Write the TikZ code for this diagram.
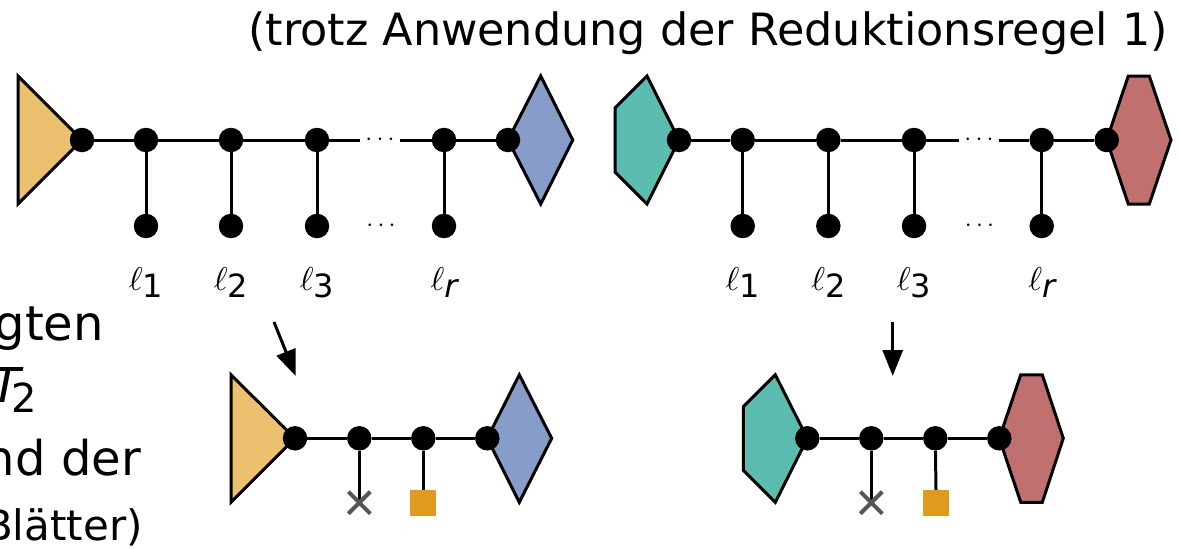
\documentclass[tikz,border=0pt]{standalone}
\usepackage{graphicx}
\usepackage{fontspec}
\setmainfont{DejaVu Sans}
\usetikzlibrary{arrows.meta}
\definecolor{cTri}{HTML}{EBC06E}
\definecolor{cDia}{HTML}{879DC9}
\definecolor{cPen}{HTML}{5BBDB0}
\definecolor{cHex}{HTML}{C17070}
\definecolor{cSq}{HTML}{E09B1E}
\definecolor{cX}{HTML}{555555}
\newcommand\ellsub[1]{{\fontsize{10}{10}\selectfont\scalebox{3.3}{$\ell$}}\raisebox{-7pt}{\fontsize{32}{32}\selectfont #1}}
\tikzset{
  dot/.style={circle,fill=black,inner sep=0pt,minimum size=24.5pt},
  edge/.style={line width=3pt},
  shapeline/.style={line width=3pt,draw=black},
  lab/.style={inner sep=0pt,anchor=base},
  ellipsisnode/.style={inner sep=5pt,font=\fontsize{33}{33}\selectfont},
  arr/.style={line width=3pt,-{Triangle[length=26pt,width=20pt]}},
  xmark/.style={draw=cX,line width=4pt},
  sqmark/.style={fill=cSq,minimum size=26pt,inner sep=0pt},
  bigtext/.style={inner sep=0pt,font=\fontsize{48}{56}\selectfont},
}
\begin{document}
\begin{tikzpicture}[x=1pt,y=-1pt]
\useasboundingbox (0,0) rectangle (1179,549);
\clip (0,0) rectangle (1179,549);
% ---------- coordinates ----------
\coordinate (pa0) at (82,140);
\coordinate (pa5) at (508,140);
\coordinate (pc0) at (679,140);
\coordinate (pc5) at (1106.7,140);
\coordinate (pe0) at (295,438.3);
\coordinate (pe3) at (487.3,438.3);
\coordinate (pf0) at (807.3,438.3);
\coordinate (pf3) at (999.3,438.3);
% ---------- shapes ----------
\draw[shapeline,fill=cTri] (pa0) -- ++(-64,-64) -- ++(0,128) -- cycle;
\draw[shapeline,fill=cDia] (pa5) -- ++(32.7,-64) -- ++(32,64) -- ++(-32,64) -- cycle;
\draw[shapeline,fill=cPen] (pc0) -- ++(-32,-64) -- ++(-32,32) -- ++(0,64) -- ++(32,32) -- cycle;
\draw[shapeline,fill=cHex] (pc5) -- ++(21.6,-64) -- ++(21,0) -- ++(21.7,64) -- ++(-21.7,64) -- ++(-21,0) -- cycle;
\draw[shapeline,fill=cTri] (pe0) -- ++(-64,-63.5) -- ++(0,127.5) -- cycle;
\draw[shapeline,fill=cDia] (pe3) -- ++(32,-63.5) -- ++(32.4,63.5) -- ++(-32.4,64) -- cycle;
\draw[shapeline,fill=cPen] (pf0) -- ++(-32,-63.5) -- ++(-32,32) -- ++(0,63.5) -- ++(32,32) -- cycle;
\draw[shapeline,fill=cHex] (pf3) -- ++(21.4,-63.5) -- ++(21.6,0) -- ++(21,63.5) -- ++(-21,64) -- ++(-21.6,0) -- cycle;
% ---------- top-left graph ----------
\node[dot] (a0) at (pa0) {};
\node[dot] (a1) at (146,140) {};
\node[dot] (a2) at (231,140) {};
\node[dot] (a3) at (317,140) {};
\node[ellipsisnode] (adots) at (380,140) {$\cdots$};
\node[dot] (ar) at (444,140) {};
\node[dot] (a5) at (pa5) {};
\node[dot] (b1) at (146,226) {};
\node[dot] (b2) at (231,226) {};
\node[dot] (b3) at (317,226) {};
\node[ellipsisnode] (bdots) at (381,226) {$\cdots$};
\node[dot] (br) at (444,226) {};
\draw[edge] (a0) -- (a1) -- (a2) -- (a3) -- (adots.west);
\draw[edge] (adots.east) -- (ar) -- (a5);
\draw[edge] (a1) -- (b1);
\draw[edge] (a2) -- (b2);
\draw[edge] (a3) -- (b3);
\draw[edge] (ar) -- (br);
\node[lab] (la1) at (146,290) {\ellsub{1}};
\node[lab] (la2) at (231,290) {\ellsub{2}};
\node[lab] (la3) at (317,290) {\ellsub{3}};
\node[lab] (lar) at (444,290) {\ellsub{\itshape r}};
% ---------- top-right graph ----------
\node[dot] (c0) at (pc0) {};
\node[dot] (c1) at (742.7,140) {};
\node[dot] (c2) at (828.3,140) {};
\node[dot] (c3) at (914,140) {};
\node[ellipsisnode] (cdots) at (979,140) {$\cdots$};
\node[dot] (cr) at (1041.7,140) {};
\node[dot] (c5) at (pc5) {};
\node[dot] (d1) at (742.7,226) {};
\node[dot] (d2) at (828.3,226) {};
\node[dot] (d3) at (914,226) {};
\node[ellipsisnode] (ddots) at (979.5,226) {$\cdots$};
\node[dot] (dr) at (1041.7,226) {};
\draw[edge] (c0) -- (c1) -- (c2) -- (c3) -- (cdots.west);
\draw[edge] (cdots.east) -- (cr) -- (c5);
\draw[edge] (c1) -- (d1);
\draw[edge] (c2) -- (d2);
\draw[edge] (c3) -- (d3);
\draw[edge] (cr) -- (dr);
\node[lab] (lc1) at (742.7,290) {\ellsub{1}};
\node[lab] (lc2) at (828.3,290) {\ellsub{2}};
\node[lab] (lc3) at (914,290) {\ellsub{3}};
\node[lab] (lcr) at (1041.7,290) {\ellsub{\itshape r}};
% ---------- bottom-left graph ----------
\node[dot] (e0) at (pe0) {};
\node[dot] (e1) at (359.3,438.3) {};
\node[dot] (e2) at (423.3,438.3) {};
\node[dot] (e3) at (pe3) {};
\coordinate (ex) at (359.3,502.7);
\node[sqmark] (esq) at (423.3,503) {};
\draw[edge] (e0) -- (e1) -- (e2) -- (e3);
\draw[edge] (e1) -- (ex);
\draw[edge] (e2) -- (esq.north);
\draw[xmark] (ex) ++(-11,-11) -- ++(22,22) (ex) ++(-11,11) -- ++(22,-22);
\coordinate (earrs) at (274,322);
\coordinate (earre) at (295.7,376);
\draw[arr] (earrs) -- (earre);
% ---------- bottom-right graph ----------
\node[dot] (f0) at (pf0) {};
\node[dot] (f1) at (871.3,438.3) {};
\node[dot] (f2) at (935.3,438.3) {};
\node[dot] (f3) at (pf3) {};
\coordinate (fx) at (871.3,502.7);
\node[sqmark] (fsq) at (936,503) {};
\draw[edge] (f0) -- (f1) -- (f2) -- (f3);
\draw[edge] (f1) -- (fx);
\draw[edge] (f2) -- (fsq.north);
\draw[xmark] (fx) ++(-11,-11) -- ++(22,22) (fx) ++(-11,11) -- ++(22,-22);
\coordinate (farrs) at (892.7,322);
\coordinate (farre) at (892.7,376);
\draw[arr] (farrs) -- (farre);
% ---------- texts ----------
\node[inner sep=0pt,anchor=base east,font=\fontsize{44.5}{50}\selectfont] (title) at (1168,45) {(trotz Anwendung der Reduktionsregel 1)};
\node[bigtext,anchor=base east] (t1) at (104,340) {gten};
\node[bigtext,anchor=base east] (t2) at (37,402) {{\itshape T}\kern-9pt\raisebox{-10pt}{\fontsize{40}{40}\selectfont 2}};
\node[bigtext,anchor=base east] (t3) at (141,475) {nd der};
\node[inner sep=0pt,anchor=base east,font=\fontsize{42}{48}\selectfont] (t4) at (143,540) {Blätter)};
\end{tikzpicture}
\end{document}
